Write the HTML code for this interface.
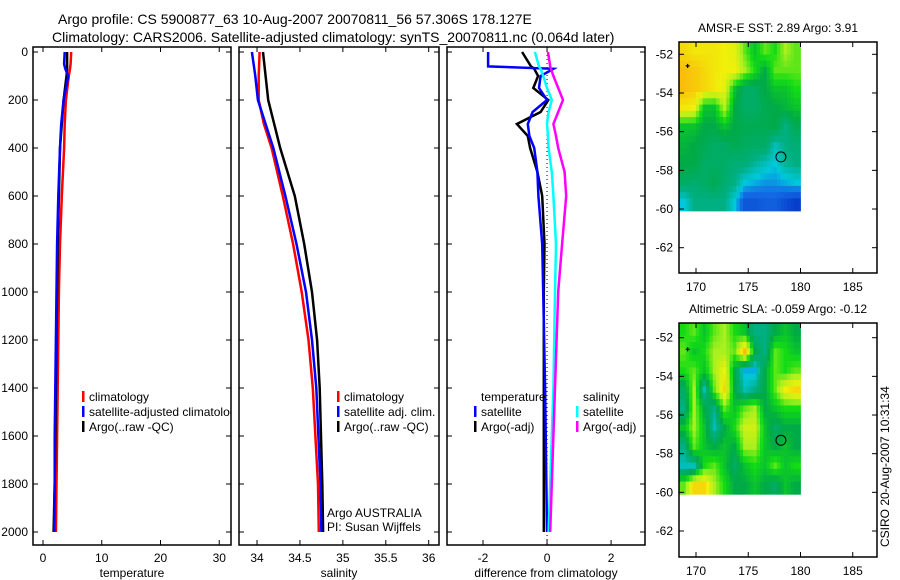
<!DOCTYPE html>
<html><head><meta charset="utf-8"><style>
body{margin:0;background:#fff;}
svg{display:block;font-family:"Liberation Sans",sans-serif;}
text{fill:#000;}
</style></head><body>
<svg id="c" width="900" height="580" viewBox="0 0 900 580" xmlns="http://www.w3.org/2000/svg">
<defs>
<clipPath id="cp1"><rect x="33" y="47" width="198" height="498"/></clipPath>
<clipPath id="cp2"><rect x="239" y="47" width="200" height="498"/></clipPath>
<clipPath id="cp3"><rect x="447" y="47" width="198" height="498"/></clipPath>
</defs>
<text x="58" y="24" font-size="14">Argo profile: CS 5900877_63 10-Aug-2007 20070811_56 57.306S 178.127E</text>
<text x="52" y="42" font-size="14">Climatology: CARS2006. Satellite-adjusted climatology: synTS_20070811.nc (0.064d later)</text>
<g id="g"></g>
</svg>
<script>
// ---- data ----
const depthT = [0,50,70,100,200,300,400,600,800,1000,1200,1400,1600,1800,2000];
const tempClim = [4.8,4.7,4.6,4.4,3.9,3.7,3.6,3.2,2.9,2.7,2.6,2.5,2.4,2.3,2.2];
const tempSat  = [3.7,3.6,3.8,4.3,3.5,3.1,2.9,2.6,2.4,2.3,2.2,2.1,2.0,2.0,1.9];
const tempArgo = [4.1,4.1,4.1,4.0,3.5,3.2,2.9,2.7,2.5,2.4,2.3,2.2,2.1,2.0,1.8];
const depthS = [0,100,200,300,400,600,800,1000,1200,1400,1800,2000];
const salClim = [34.03,34.02,34.02,34.08,34.17,34.30,34.42,34.52,34.60,34.65,34.71,34.72];
const salSat  = [33.94,33.98,34.01,34.10,34.19,34.33,34.46,34.57,34.64,34.69,34.74,34.75];
const salArgo = [34.07,34.10,34.13,34.20,34.27,34.44,34.55,34.64,34.70,34.73,34.76,34.77];
const depthD = [0,60,70,100,150,200,250,300,350,400,500,600,800,1000,1400,2000];
const dTempSat  = [-1.84,-1.84,0.2,-0.2,-0.25,0,-0.45,-0.6,-0.55,-0.4,-0.3,-0.27,-0.15,-0.12,-0.06,0];
const dTempArgo = [-0.78,-0.5,-0.4,-0.28,-0.43,0.04,-0.2,-0.94,-0.6,-0.53,-0.3,-0.15,-0.08,-0.1,-0.1,-0.1];
const dSalSat   = [-0.38,-0.25,-0.2,-0.12,0,0.15,0.05,0,0.03,0.05,0.15,0.2,0.28,0.25,0.2,0.05];
const dSalArgo  = [0.03,0.1,0.12,0.2,0.35,0.5,0.35,0.2,0.28,0.35,0.55,0.6,0.47,0.35,0.25,0.1];
const tempTicks = [0,10,20,30];
const salTicks = [34,34.5,35,35.5,36];
const diffTicks = [-2,0,2];
const depthTicks = [0,200,400,600,800,1000,1200,1400,1600,1800,2000];
const latTicks = [-52,-54,-56,-58,-60,-62];
const lonTicks = [170,175,180,185];
const sstGrid = [
[.75,.72,.72,.72,.70,.68,.55,.45,.55,.50,.60,.55],
[.80,.78,.75,.72,.70,.70,.60,.50,.40,.55,.55,.55],
[.80,.78,.75,.72,.68,.45,.35,.35,.40,.45,.45,.50],
[.72,.70,.45,.45,.62,.40,.35,.35,.38,.40,.42,.45],
[.45,.45,.40,.40,.45,.40,.38,.38,.38,.40,.30,.38],
[.42,.40,.38,.35,.35,.38,.36,.35,.35,.25,.30,.32],
[.40,.40,.35,.35,.35,.32,.32,.28,.25,.22,.28,.30],
[.35,.33,.35,.38,.33,.30,.22,.20,.18,.18,.20,.22],
[.22,.30,.30,.30,.30,.22,.10,.10,.12,.12,.08,.05]];
const slaGrid = [
[.5,.55,.45,.55,.6,.5,.45,.3,.3,.4,.45,.4],
[.55,.45,.5,.6,.6,.55,.8,.4,.3,.55,.5,.45],
[.5,.55,.45,.6,.7,.4,.2,.2,.4,.55,.5,.55],
[.35,.6,.25,.55,.75,.4,.25,.3,.4,.55,.7,.75],
[.3,.6,.4,.3,.55,.45,.55,.6,.4,.45,.5,.5],
[.45,.6,.45,.25,.4,.5,.65,.65,.45,.35,.4,.4],
[.3,.55,.45,.4,.45,.4,.6,.6,.45,.4,.45,.4],
[.25,.25,.5,.55,.45,.35,.45,.5,.45,.55,.45,.5],
[.55,.75,.75,.6,.5,.4,.4,.45,.4,.35,.45,.4]];
const argoLon = 178.127, argoLat = -57.306;

// ---- helpers ----
const NS="http://www.w3.org/2000/svg", G=document.getElementById('g');
function mk(tag,attrs,parent){const e=document.createElementNS(NS,tag);for(const k in attrs)e.setAttribute(k,attrs[k]);(parent||G).appendChild(e);return e;}
const Y=d=>52+d*0.24;
const panels=[
 {x0:33,x1:231,vmin:-1.7,vmax:32,ticks:tempTicks,label:'temperature',clip:'cp1'},
 {x0:239,x1:439,vmin:33.79,vmax:36.12,ticks:salTicks,label:'salinity',clip:'cp2'},
 {x0:447,x1:645,vmin:-3.125,vmax:3.06,ticks:diffTicks,label:'difference from climatology',clip:'cp3'}];
panels.forEach((p,i)=>{p.X=v=>p.x0+(v-p.vmin)/(p.vmax-p.vmin)*(p.x1-p.x0);
 const fr=mk('rect',{x:p.x0,y:47,width:p.x1-p.x0,height:498,fill:'none',stroke:'#000','stroke-width':1.5});
 
 
 p.ticks.forEach(t=>{const x=p.X(t);
  mk('line',{x1:x,x2:x,y1:47,y2:52,stroke:'#000'});mk('line',{x1:x,x2:x,y1:540,y2:545,stroke:'#000'});
  const tx=mk('text',{x:x,y:562,'font-size':12,'text-anchor':'middle'});tx.textContent=t;
  
  });
 depthTicks.forEach(d=>{mk('line',{x1:p.x0,x2:p.x0+5,y1:Y(d),y2:Y(d),stroke:'#000'});mk('line',{x1:p.x1-5,x2:p.x1,y1:Y(d),y2:Y(d),stroke:'#000'});});
 const xl=mk('text',{x:(p.x0+p.x1)/2,y:577,'font-size':12,'text-anchor':'middle'});xl.textContent=p.label;
 
 
});
depthTicks.forEach(d=>{const t=mk('text',{x:28,y:Y(d)+4,'font-size':12,'text-anchor':'end'});t.textContent=d;
 
 });
function series(p,ds,vs,col,name,w){
 const pts=ds.map((d,i)=>p.X(vs[i]).toFixed(1)+','+Y(d).toFixed(1)).join(' ');
 const l=mk('polyline',{points:pts,fill:'none',stroke:col,'stroke-width':w||2.5,'clip-path':'url(#'+p.clip+')'});
 
 }
const P=panels;
series(P[0],depthT,tempClim,'#f00','temp-climatology-line');
series(P[0],depthT,tempArgo,'#000','temp-argo-line');
series(P[0],depthT,tempSat,'#00f','temp-satellite-line');
series(P[1],depthS,salClim,'#f00','sal-climatology-line');
series(P[1],depthS,salArgo,'#000','sal-argo-line');
series(P[1],depthS,salSat,'#00f','sal-satellite-line');
mk('line',{x1:P[2].X(0),x2:P[2].X(0),y1:47,y2:545,stroke:'#000','stroke-dasharray':'1,3'});
series(P[2],depthD,dTempArgo,'#000','diff-temp-argo-line');
series(P[2],depthD,dTempSat,'#00f','diff-temp-satellite-line');
series(P[2],depthD,dSalSat,'#0ff','diff-sal-satellite-line');
series(P[2],depthD,dSalArgo,'#f0f','diff-sal-argo-line');
function legend(x,y,items,clip){items.forEach((it,i)=>{const yy=y+i*15;
 if(it[1])mk('rect',{x:x,y:yy-10,width:2.5,height:11,fill:it[1]});
 const t=mk('text',{x:x+7,y:yy,'font-size':12,'clip-path':clip?'url(#'+clip+')':''});t.textContent=it[0];
 
 });}
legend(82,401,[['climatology','#f00'],['satellite-adjusted climatology','#00f'],['Argo(..raw -QC)','#000']],'cp1');
legend(337,401,[['climatology','#f00'],['satellite adj. clim.','#00f'],['Argo(..raw -QC)','#000']]);
legend(474,401,[['temperature',null],['satellite','#00f'],['Argo(-adj)','#000']]);
legend(576,401,[['salinity',null],['satellite','#0ff'],['Argo(-adj)','#f0f']]);
[['Argo AUSTRALIA',517],['PI: Susan Wijffels',531]].forEach(a=>{const t=mk('text',{x:327,y:a[1],'font-size':12});t.textContent=a[0];
 
 });
// colormap
const stops=[[0,[0,40,190]],[.15,[20,110,230]],[.22,[0,200,220]],[.3,[0,175,130]],[.4,[0,170,70]],[.5,[20,220,20]],[.6,[170,240,30]],[.7,[240,240,10]],[.8,[250,190,10]],[.9,[230,120,10]],[1,[200,60,0]]];
function cmap(v){for(let i=1;i<stops.length;i++){if(v<=stops[i][0]){const a=stops[i-1],b=stops[i],f=(v-a[0])/(b[0]-a[0]);return 'rgb('+a[1].map((c,k)=>Math.round(c+(b[1][k]-c)*f)).join(',')+')';}}return 'rgb(200,60,0)';}
function sample(grid,r,c){const R=grid.length-1,C=grid[0].length-1;r=Math.max(0,Math.min(R,r));c=Math.max(0,Math.min(C,c));
 const r0=Math.floor(r),c0=Math.floor(c),r1=Math.min(R,r0+1),c1=Math.min(C,c0+1),fr=r-r0,fc=c-c0;
 return grid[r0][c0]*(1-fr)*(1-fc)+grid[r0][c1]*(1-fr)*fc+grid[r1][c0]*fr*(1-fc)+grid[r1][c1]*fr*fc;}
function map(top,bot,lat52,lat62,grid,title,name){
 const L=v=>696+(v-170)*10.45, La=v=>lat52+(v+52)*(lat62-lat52)/-10;
 const g=mk('g',{});
 
 const x0=679,x1=L(180),y0=top,y1=La(-60.1),S=3,nc=12*S,nr=9*S,cw=(x1-x0)/nc,ch=(y1-y0)/nr;
 for(let r=0;r<nr;r++)for(let c=0;c<nc;c++){const v=sample(grid,(r+.5)/S-.5,(c+.5)/S-.5);
  mk('rect',{x:(x0+c*cw).toFixed(2),y:(y0+r*ch).toFixed(2),width:(cw+.4).toFixed(2),height:(ch+.4).toFixed(2),fill:cmap(v)},g);}
 mk('rect',{x:679,y:top,width:198,height:bot-top,fill:'none',stroke:'#000','stroke-width':1.5},g);
 latTicks.forEach(t=>{const y=La(t);mk('line',{x1:679,x2:684,y1:y,y2:y,stroke:'#000'},g);mk('line',{x1:872,x2:877,y1:y,y2:y,stroke:'#000'},g);
  const tx=mk('text',{x:673,y:y+4,'font-size':12,'text-anchor':'end'},g);tx.textContent=t;});
 lonTicks.forEach(t=>{const x=L(t);mk('line',{x1:x,x2:x,y1:top,y2:top+5,stroke:'#000'},g);mk('line',{x1:x,x2:x,y1:bot-5,y2:bot,stroke:'#000'},g);
  const tx=mk('text',{x:x,y:bot+18,'font-size':12,'text-anchor':'middle'},g);tx.textContent=t;});
 const c=mk('circle',{cx:L(argoLon),cy:La(argoLat),r:5,fill:'none',stroke:'#000'},g);
 
 
 const px=L(169.2),py=La(-52.6);mk('path',{d:`M${px-2} ${py}h4M${px} ${py-2}v4`,stroke:'#000','stroke-width':1.2},g);
 const t=mk('text',{x:778,y:top-10,'font-size':12,'text-anchor':'middle'},g);t.textContent=title;
 
 }
map(42,273,54.3,247.7,sstGrid,'AMSR-E SST: 2.89 Argo: 3.91','sst-map');
map(323,557,337.7,531,slaGrid,'Altimetric SLA: -0.059 Argo: -0.12','sla-map');
const cs=mk('text',{x:0,y:0,'font-size':12,transform:'translate(889,547) rotate(-90)'});cs.textContent='CSIRO 20-Aug-2007 10:31:34';


</script>
</body></html>
